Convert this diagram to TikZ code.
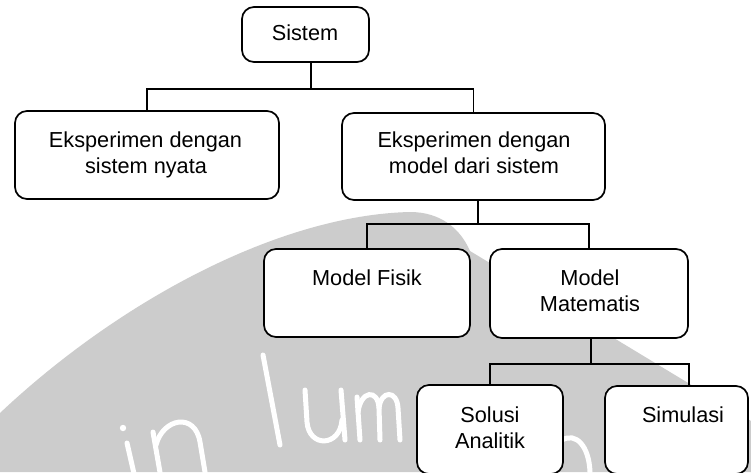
\documentclass[tikz,border=0pt]{standalone}
\usepackage{fontspec}
\setmainfont{Liberation Sans}
\definecolor{wm}{gray}{0.8}
\begin{document}
\begin{tikzpicture}[x=1pt,y=-1pt,
  box/.style={draw=black, line width=1.7pt, rounded corners=12pt, fill=white, inner sep=0pt},
  lbl/.style={anchor=base, inner sep=0pt, font=\fontsize{21.7}{26}\selectfont},
  link/.style={draw=black, line width=1.6pt},
  wmark/.style={draw=white, line width=5pt, line cap=round}]
\useasboundingbox (0,0) rectangle (751,472);
\clip (0,0) rectangle (751,472);
\fill[white] (0,0) rectangle (751,472);
% watermark
\fill[wm] (0,472) -- (0,413) .. controls (120,300) and (280,215) .. (410,212)
  .. controls (440,212) and (460,228) .. (470,251) -- (751,421) -- (751,472) -- cycle;
\draw[wmark] (127,443) -- (135,478);
\fill[white] (123,428) circle (3.2pt);
\draw[wmark] (153,432) -- (161,478);
\draw[wmark] (156,445) .. controls (163,418) and (195,412) .. (200,442) -- (206,478);
\draw[wmark] (263,355) -- (280,445);
\draw[wmark] (305,390) -- (307,422) .. controls (309,448) and (340,447) .. (342,420);
\draw[wmark] (341,390) -- (345,440);
\draw[wmark] (357,397) -- (360,440);
\draw[wmark] (358,412) .. controls (361,390) and (378,389) .. (379,408) -- (380,440);
\draw[wmark] (379,408) .. controls (381,390) and (397,390) .. (398,408) -- (400,440);
\draw[wmark] (562,440) .. controls (576,432) and (589,446) .. (590,472);
% boxes
\node[box, minimum width=127pt, minimum height=55pt] (sys) at (305.5,34.5) {};
\node[box, minimum width=264pt, minimum height=88pt] (L1) at (147,155) {};
\node[box, minimum width=263pt, minimum height=87pt] (R1) at (473.5,156.5) {};
\node[box, minimum width=206pt, minimum height=88pt] (MF) at (367,293) {};
\node[box, minimum width=198pt, minimum height=89pt] (MM) at (589,293.5) {};
\node[box, minimum width=146pt, minimum height=89pt] (SA) at (490,429.5) {};
\node[box, minimum width=143pt, minimum height=88pt] (SI) at (676.5,430) {};
% labels
\node[lbl] (tsys) at (305,40) {Sistem};
\node[lbl] (tl1a) at (145.5,147) {Eksperimen dengan};
\node[lbl] (tl1b) at (146,173) {sistem nyata};
\node[lbl] (tr1a) at (474,147) {Eksperimen dengan};
\node[lbl] (tr1b) at (474,173) {model dari sistem};
\node[lbl] (tmf) at (367,285) {Model Fisik};
\node[lbl] (tmma) at (590,285) {Model};
\node[lbl] (tmmb) at (590,311) {Matematis};
\node[lbl] (tsaa) at (490,422) {Solusi};
\node[lbl] (tsab) at (490,448) {Analitik};
\node[lbl] (tsi) at (683,422) {Simulasi};
% connectors
\draw[link] ([xshift=5.5pt]sys.south) -- ++(0,26) -| (L1.north);
\draw[link] ([xshift=5.5pt]sys.south) -- ++(0,26) -| (R1.north);
\draw[link] ([xshift=4.5pt]R1.south) -- ++(0,23) -| (MF.north);
\draw[link] ([xshift=4.5pt]R1.south) -- ++(0,23) -| (MM.north);
\draw[link] ([xshift=2pt]MM.south) -- ++(0,25) -| (SA.north);
\draw[link] ([xshift=2pt]MM.south) -- ++(0,25) -| ([xshift=12.5pt]SI.north);
\end{tikzpicture}
\end{document}
